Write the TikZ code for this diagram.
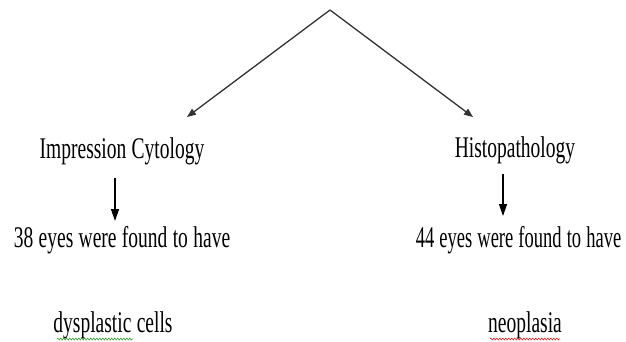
\documentclass[tikz,border=0pt]{standalone}
\usepackage{fontspec}
\setmainfont{Liberation Serif}[FakeStretch=0.65,WordSpace=1.1]
\usetikzlibrary{arrows.meta,decorations.pathmorphing}
\begin{document}
\begin{tikzpicture}[x=1pt,y=-1pt,
  lbl/.style={inner sep=0pt,anchor=base,font=\fontsize{30}{31}\selectfont},
  conn/.style={draw=black!80,line width=1.3pt,-{Triangle[length=9pt,width=7pt]}},
  vconn/.style={draw=black,line width=1.3pt,-{Triangle[length=12pt,width=8pt]}},
  squig/.style={decorate,decoration={zigzag,segment length=3pt,amplitude=1pt},line width=0.6pt}]
\useasboundingbox[fill=white] (0,0) rectangle (626,341);
\coordinate (apex) at (330,10);
\coordinate (tipL) at (187,117);
\coordinate (tipR) at (473,117);
\node[lbl] (imp) at (122,158) {Impression Cytology};
\node[lbl] (his) at (515,157) {Histopathology};
\node[lbl] (e38) at (122,247) {38 eyes were found to have};
\node[lbl] (e44) at (518.5,247) {\scalebox{0.95}[1]{44 eyes were found to have}};
\node[lbl] (dys) at (113,332) {dysplastic cells};
\node[lbl] (neo) at (525,332) {neoplasia};
\coordinate (aL1) at (115,178);
\coordinate (aL2) at (115,221);
\coordinate (aR1) at (503,174);
\coordinate (aR2) at (503,216);
\draw[conn] (apex) -- (tipL);
\draw[conn] (apex) -- (tipR);
\draw[vconn] (aL1) -- (aL2);
\draw[vconn] (aR1) -- (aR2);
\coordinate (sgA) at (57,339);
\coordinate (sgB) at (133,339);
\coordinate (snA) at (490,339);
\coordinate (snB) at (560,339);
\draw[squig,draw={rgb,255:red,60;green,160;blue,60}] (sgA) -- (sgB);
\draw[squig,draw={rgb,255:red,230;green,40;blue,40}] (snA) -- (snB);
\end{tikzpicture}
\end{document}
